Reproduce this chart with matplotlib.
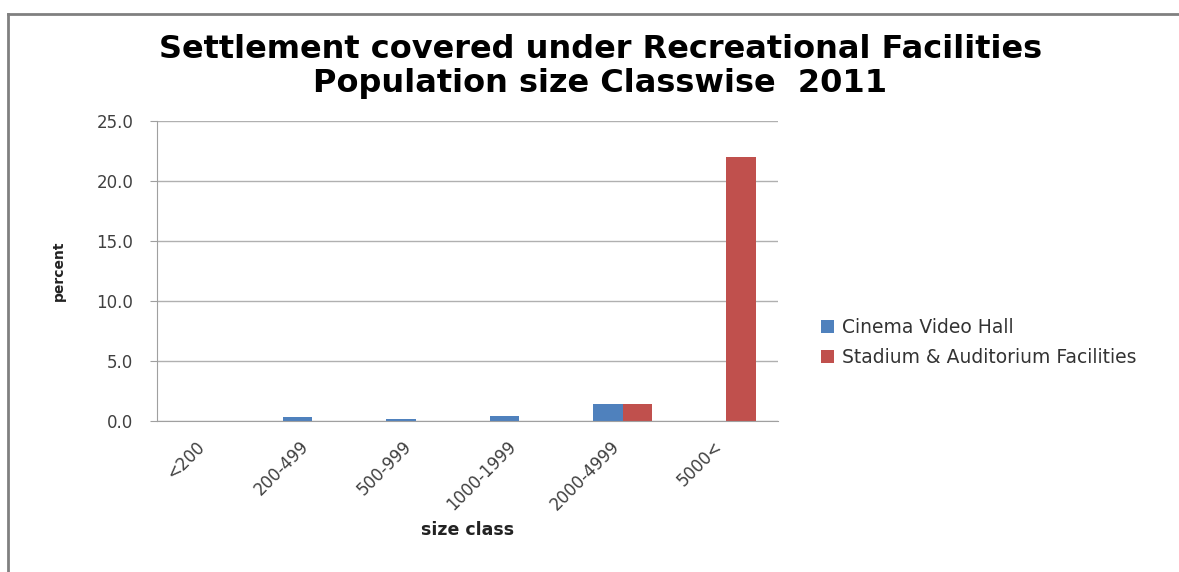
import matplotlib
matplotlib.use("Agg")
import matplotlib.pyplot as plt
import numpy as np

# size classes and share of settlements (percent)
size_classes = ['<200', '200-499', '500-999', '1000-1999', '2000-4999', '5000<']
cinema_hall = [0.0, 0.3, 0.15, 0.42, 1.4, 0.0]
stadium_aud = [0.0, 0.0, 0.0, 0.0, 1.4, 22.0]
y_ticks = [0.0, 5.0, 10.0, 15.0, 20.0, 25.0]

plt.rcParams['font.family'] = ['DejaVu Sans']

fig = plt.figure(figsize=(11.79, 5.72), dpi=100)
ax = fig.add_axes([157 / 1179, 1 - 421 / 572, (778 - 157) / 1179, 300 / 572])

x = np.arange(len(size_classes))
w = 0.285
ax.bar(x - w / 2, cinema_hall, w, color='#4F81BD', label='Cinema Video Hall', zorder=3)
ax.bar(x + w / 2, stadium_aud, w, color='#C0504D', label='Stadium & Auditorium Facilities', zorder=3)

ax.set_xlim(-0.5, len(size_classes) - 0.5)
ax.set_ylim(0, 25)
ax.set_yticks(y_ticks)
ax.set_yticklabels([f'{v:.1f}' for v in y_ticks], fontsize=12, color='#404040')
ax.yaxis.grid(True, color='#b0b0b0', linewidth=1, zorder=0)
ax.tick_params(axis='y', direction='out', length=5, color='#a0a0a0', pad=12)

ax.set_xticks(x)
ax.set_xticklabels(size_classes, rotation=45, ha='right', fontsize=12, color='#404040')
ax.tick_params(axis='x', length=0, pad=12)

for side in ['top', 'right']:
    ax.spines[side].set_visible(False)
ax.spines['left'].set_color('#a0a0a0')
ax.spines['bottom'].set_color('#a0a0a0')
ax.spines['bottom'].set_zorder(4)

ax.set_xlabel('size class', fontsize=12.5, fontweight='bold', color='#222222', labelpad=5)
ax.set_ylabel('percent', fontsize=10, fontweight='bold', color='#222222', labelpad=22)

fig.suptitle('Settlement covered under Recreational Facilities\nPopulation size Classwise  2011',
             x=0.509, y=0.94, fontsize=23, fontweight='bold', linespacing=1.1)

fig.legend(loc='upper left', bbox_to_anchor=(804 / 1179, 1 - 301 / 572), frameon=False,
           fontsize=13.5, handlelength=0.7, handleheight=0.7, labelspacing=0.6,
           handletextpad=0.45, labelcolor='#333333')

# outer frame of the chart area
fig.add_artist(plt.Line2D([8 / 1179, 1], [1 - 14 / 572, 1 - 14 / 572], color='#808080', linewidth=2))
fig.add_artist(plt.Line2D([8 / 1179, 8 / 1179], [0, 1 - 14 / 572], color='#808080', linewidth=2))

fig.savefig('out.png', dpi=100)
